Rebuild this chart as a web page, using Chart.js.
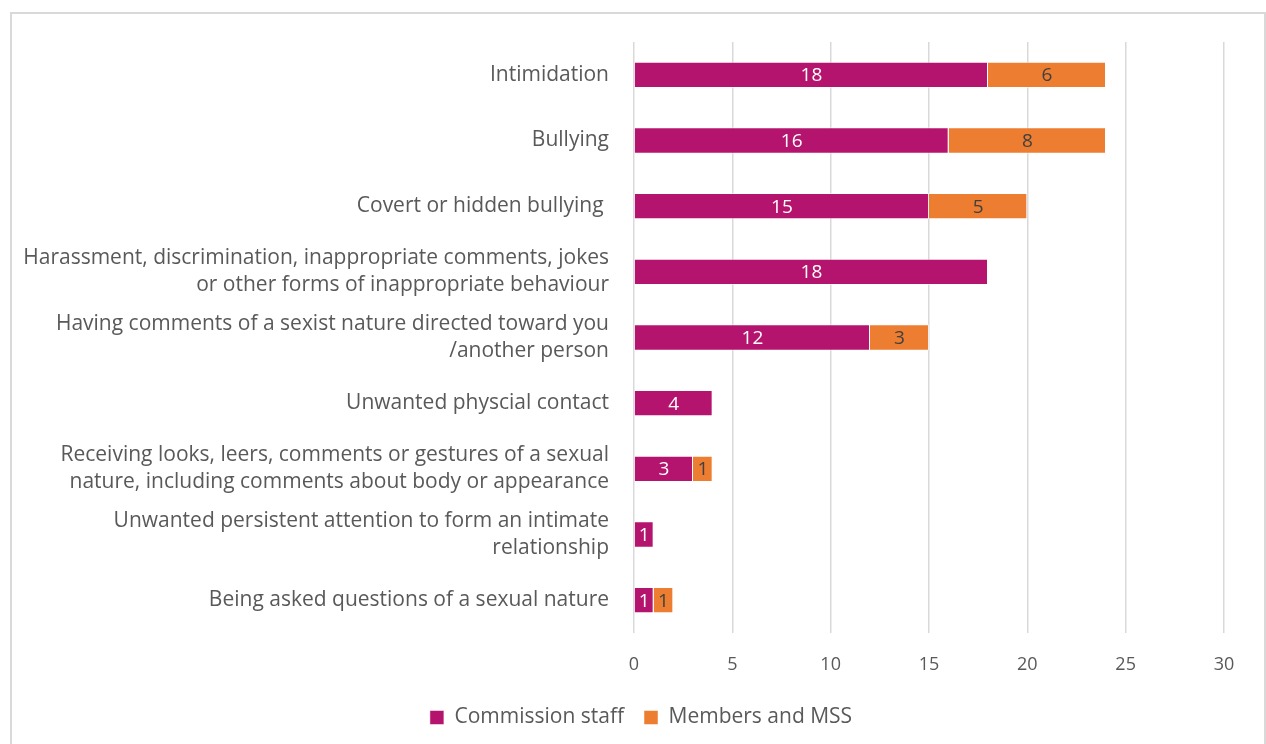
<!DOCTYPE html>
<html>
<head>
<meta charset="utf-8">
<script src="https://cdn.jsdelivr.net/npm/chart.js@4.4.0/dist/chart.umd.min.js"></script>
<style>
  html, body { margin: 0; padding: 0; background: #fff; overflow: hidden; }
  #frame {
    position: absolute; left: 10px; top: 12px;
    width: 1252px; height: 740px;
    border: 2px solid #d9d9d9; border-bottom: none;
  }
  #wrap { position: absolute; left: 0; top: 0; width: 1252px; height: 730px; }
</style>
</head>
<body>
<div id="frame"><div id="wrap"><canvas id="chart"></canvas></div></div>
<script>
// Categorías y valores
const categories = [
    'Intimidation',
    'Bullying',
    'Covert or hidden bullying ',
    ['Harassment, discrimination, inappropriate comments, jokes', 'or other forms of inappropriate behaviour'],
    ['Having comments of a sexist nature directed toward you', '/another person'],
    'Unwanted physcial contact',
    ['Receiving looks, leers, comments or gestures of a sexual', 'nature, including comments about body or appearance'],
    ['Unwanted persistent attention to form an intimate', 'relationship'],
    'Being asked questions of a sexual nature'
];
const commissionStaff = [18, 16, 15, 18, 12, 4, 3, 1, 1];
const membersMSS = [6, 8, 5, 0, 3, 0, 1, 0, 1];
const xTicks = [0, 5, 10, 15, 20, 25, 30];

const fontFamily = '"Open Sans", sans-serif';
const textColor = '#595959';

// Etiquetas de datos dentro de las barras
const barLabels = {
    id: 'barLabels',
    afterDatasetsDraw(chart) {
        const ctx = chart.ctx;
        ctx.save();
        ctx.font = '19px ' + fontFamily;
        ctx.textAlign = 'center';
        ctx.textBaseline = 'middle';
        chart.data.datasets.forEach((ds, i) => {
            const meta = chart.getDatasetMeta(i);
            meta.data.forEach((bar, j) => {
                const v = ds.data[j];
                if (!v) return;
                const cx = (bar.x + bar.base) / 2;
                ctx.fillStyle = i === 0 ? '#ffffff' : '#404040';
                ctx.fillText(String(v), cx, bar.y + 1);
            });
        });
        ctx.restore();
    }
};

// Centrar la leyenda en el marco completo
const legendShift = {
    id: 'legendShift',
    afterLayout(chart) {
        if (chart.legend) {
            chart.legend.left += 23;
            chart.legend.right += 23;
        }
    }
};

new Chart(document.getElementById('chart'), {
    type: 'bar',
    data: {
        labels: categories,
        datasets: [
            { label: 'Commission staff', data: commissionStaff, backgroundColor: '#b4146e',
              borderColor: 'rgba(255,255,255,0.5)', borderWidth: 1 },
            { label: 'Members and MSS', data: membersMSS, backgroundColor: '#ed7d31',
              borderColor: 'rgba(255,255,255,0.5)', borderWidth: 1 }
        ]
    },
    options: {
        indexAxis: 'y',
        responsive: true, maintainAspectRatio: false,
        animation: false,
        categoryPercentage: 0.8,
        barPercentage: 0.5,
        layout: { padding: { top: 28, right: 40, bottom: 6, left: 0 } },
        scales: {
            x: {
                stacked: true, min: 0, max: 30,
                afterBuildTicks: s => { s.ticks = xTicks.map(v => ({ value: v })); },
                grid: { color: '#d9d9d9', lineWidth: 1.5, drawTicks: false },
                border: { display: false },
                ticks: { padding: 21, color: textColor, font: { family: fontFamily, size: 18 } },
                afterFit: s => { s.height = 54; }
            },
            y: {
                stacked: true,
                grid: { display: false },
                border: { display: false },
                ticks: { padding: 17, color: textColor, font: { family: fontFamily, size: 21, lineHeight: 1.28 } },
                afterFit: s => { s.width = 622; s.paddingTop = 0; s.paddingBottom = 0; }
            }
        },
        plugins: {
            legend: {
                position: 'bottom',
                labels: {
                    boxWidth: 14, boxHeight: 14, padding: 20,
                    color: textColor, font: { family: fontFamily, size: 21 }
                }
            },
            tooltip: { enabled: false }
        }
    },
    plugins: [barLabels, legendShift]
});
</script>
</body>
</html>
